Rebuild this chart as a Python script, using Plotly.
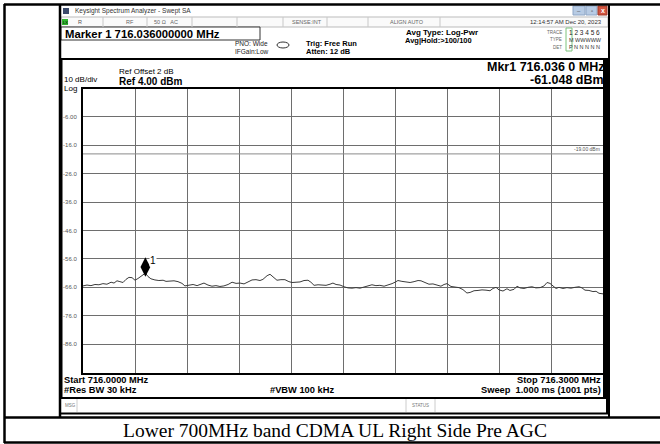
import plotly.graph_objects as go

# ---------------- data ----------------
freq_mhz = [716.0000, 716.0023, 716.0046, 716.0069, 716.0092, 716.0115, 716.0138, 716.0162, 716.0179,
            716.0196, 716.0213, 716.0231, 716.0248, 716.0265, 716.0283, 716.0300, 716.0317, 716.0335,
            716.0360, 716.0375, 716.0392, 716.0415, 716.0438, 716.0462, 716.0479, 716.0502, 716.0525,
            716.0548, 716.0571, 716.0588, 716.0612, 716.0635, 716.0658, 716.0681, 716.0698, 716.0721,
            716.0744, 716.0767, 716.0790, 716.0813, 716.0837, 716.0860, 716.0883, 716.0906, 716.0929,
            716.0952, 716.0975, 716.0998, 716.1021, 716.1038, 716.1062, 716.1079, 716.1096, 716.1119,
            716.1142, 716.1165, 716.1188, 716.1206, 716.1229, 716.1252, 716.1275, 716.1298, 716.1315,
            716.1333, 716.1356, 716.1379, 716.1402, 716.1425, 716.1442, 716.1460, 716.1483, 716.1506,
            716.1529, 716.1552, 716.1575, 716.1598, 716.1621, 716.1644, 716.1667, 716.1690, 716.1713,
            716.1737, 716.1760, 716.1783, 716.1800, 716.1817, 716.1840, 716.1863, 716.1887, 716.1910,
            716.1933, 716.1950, 716.1973, 716.1996, 716.2019, 716.2042, 716.2065, 716.2083, 716.2100,
            716.2123, 716.2146, 716.2169, 716.2192, 716.2215, 716.2233, 716.2256, 716.2279, 716.2302,
            716.2325, 716.2348, 716.2365, 716.2383, 716.2400, 716.2423, 716.2446, 716.2463, 716.2487,
            716.2504, 716.2521, 716.2544, 716.2567, 716.2590, 716.2613, 716.2637, 716.2660, 716.2677,
            716.2694, 716.2712, 716.2729, 716.2746, 716.2769, 716.2792, 716.2815, 716.2838, 716.2862,
            716.2879, 716.2896, 716.2919, 716.2942, 716.2960, 716.2977, 716.3000]
level_dbm = [-65.5, -65.2, -65.4, -65.0, -65.1, -64.7, -64.9, -64.2, -64.5,
             -63.7, -64.0, -64.3, -63.2, -62.5, -62.6, -63.5, -62.9, -62.0,
             -61.0, -62.2, -63.0, -63.4, -63.6, -63.5, -63.9, -63.8, -63.7,
             -64.0, -64.6, -65.5, -65.3, -65.0, -65.4, -64.9, -64.5, -65.2,
             -65.6, -65.4, -65.7, -65.5, -65.0, -64.2, -64.6, -64.5, -64.8,
             -64.1, -63.4, -63.3, -63.6, -63.2, -61.9, -61.4, -62.3, -63.5,
             -63.3, -63.3, -64.0, -64.3, -64.2, -64.1, -63.6, -63.5, -64.2,
             -65.3, -65.1, -65.2, -65.3, -64.9, -64.5, -65.0, -65.2, -65.8,
             -66.2, -66.3, -66.1, -66.3, -65.9, -65.5, -65.1, -65.4, -65.3,
             -65.6, -65.2, -64.7, -64.2, -63.6, -63.9, -64.2, -64.3, -64.0,
             -63.6, -63.7, -64.4, -64.9, -64.8, -65.3, -65.6, -65.0, -64.7,
             -65.7, -66.0, -66.1, -66.8, -68.0, -67.8, -67.2, -67.1, -66.9,
             -67.0, -67.2, -66.4, -66.0, -66.9, -67.3, -66.5, -67.1, -66.7,
             -65.6, -66.2, -66.4, -66.0, -65.8, -66.2, -66.1, -65.5, -64.3,
             -64.6, -65.6, -66.4, -66.0, -66.4, -66.1, -66.3, -66.0, -65.8,
             -66.2, -67.0, -67.1, -67.5, -67.4, -68.1, -68.3]

y_tick_vals = [-6, -16, -26, -36, -46, -56, -66, -76, -86]
y_tick_text = ["-6.00", "-16.0", "-26.0", "-36.0", "-46.0", "-56.0", "-66.0", "-76.0", "-86.0"]
x_grid_vals = [716.03, 716.06, 716.09, 716.12, 716.15, 716.18, 716.21, 716.24, 716.27]

start_mhz, stop_mhz = 716.0, 716.3
ref_level, bottom_level = 4.0, -96.0
display_line = -19.0
mkr_freq, mkr_level = 716.036, -61.048

W, H = 660, 444
SANS = "Liberation Sans, Arial, sans-serif"
SERIF = "Liberation Serif, Times New Roman, serif"


def X(px):
    return px / W


def Y(py):
    return 1 - py / H


fig = go.Figure()

fig.add_trace(go.Scatter(x=freq_mhz, y=level_dbm, mode="lines",
                         line=dict(color="#3a3a3a", width=1), hoverinfo="skip", showlegend=False))
# marker 1 (diamond sitting on the trace peak)
fig.add_trace(go.Scatter(x=[mkr_freq], y=[mkr_level + 2.2], mode="markers",
                         marker=dict(symbol="diamond-tall", size=14, color="black"),
                         hoverinfo="skip", showlegend=False))

shapes = []
annots = []


def rect(x0, y0, x1, y1, fill=None, line=None, lw=1):
    shapes.append(dict(type="rect", xref="paper", yref="paper", x0=X(x0), x1=X(x1), y0=Y(y1), y1=Y(y0),
                       fillcolor=fill if fill else "rgba(0,0,0,0)",
                       line=dict(color=line if line else "rgba(0,0,0,0)", width=lw if line else 0),
                       layer="below"))


def hline(x0, x1, y, color="black", lw=1):
    shapes.append(dict(type="line", xref="paper", yref="paper", x0=X(x0), x1=X(x1), y0=Y(y), y1=Y(y),
                       line=dict(color=color, width=lw)))


def vline(x, y0, y1, color="black", lw=1):
    shapes.append(dict(type="line", xref="paper", yref="paper", x0=X(x), x1=X(x), y0=Y(y0), y1=Y(y1),
                       line=dict(color=color, width=lw)))


def text(x, y, s, size=8, bold=False, anchor="left", color="black", font=SANS):
    if bold:
        s = "<b>" + s + "</b>"
    annots.append(dict(xref="paper", yref="paper", x=X(x), y=Y(y), text=s, showarrow=False,
                       xanchor=anchor, yanchor="middle", font=dict(family=font, size=size, color=color)))


# ---- title bar ----
rect(61, 5, 608, 17, fill="#d3e1f2")
rect(63, 8, 69, 14, fill="#3b4a6b")
text(73, 11, "Keysight Spectrum Analyzer - Swept SA", size=6.5, color="#333")
rect(573, 6, 585, 15, fill="#b7cbe4", line="#8ea6c6")
rect(586, 6, 597, 15, fill="#b7cbe4", line="#8ea6c6")
rect(598, 6, 607, 15, fill="#d2553f", line="#a03a2a")
text(602.5, 10.5, "x", size=7, bold=True, anchor="center", color="white")
text(579, 10.5, "–", size=6, anchor="center", color="#444")
text(591.5, 10.5, "▫", size=6, anchor="center", color="#444")

# ---- status row ----
rect(61, 17, 608, 27, fill="#fafafa", line="#bbbbbb", lw=1)
rect(62, 19, 68, 25, fill="#2fb52f")
text(65, 22, "LX", size=4, anchor="center", color="#000")
text(76, 22, "R", size=5.5, color="#555")
text(130, 22, "RF", size=5.5, anchor="center", color="#666")
text(152, 22, "50 Ω   AC", size=5.5, color="#666")
text(290, 22, "SENSE:INT", size=5.5, color="#666")
text(388, 22, "ALIGN AUTO", size=5.5, color="#666")
text(604, 22, "12:14:57 AM Dec 20, 2023", size=6, anchor="right", color="#333")
for sx in [103, 147, 192, 237, 283, 327, 368, 440]:
    vline(sx, 17, 27, color="#c8c8c8", lw=1)

# ---- marker frequency box and settings ----
rect(61, 27, 260, 40, fill="white", line="#333", lw=1)
text(63, 33.5, "Marker 1 716.036000000 MHz", size=11.3, bold=True)
text(233, 43.5, "PNO: Wide", size=6.5, color="#222")
text(233, 51.5, "IFGain:Low", size=6.5, color="#222")
shapes.append(dict(type="circle", xref="paper", yref="paper", x0=X(277), x1=X(289), y0=Y(48), y1=Y(42),
                   line=dict(color="#333", width=1)))
text(304, 43, "Trig: Free Run", size=7.5, bold=True)
text(304, 51.5, "Atten: 12 dB", size=7.5, bold=True)
text(442, 32, "Avg Type: Log-Pwr", size=8, bold=True, anchor="center")
text(438, 40.5, "Avg|Hold:>100/100", size=7.5, bold=True, anchor="center")
text(564, 32, "TRACE", size=4.5, anchor="right", color="#666")
text(564, 39.5, "TYPE", size=4.5, anchor="right", color="#666")
text(564, 47, "DET", size=4.5, anchor="right", color="#666")
rect(566, 28, 572, 51, line="#7cc47c", lw=1)
text(567, 32, "1 2 3 4 5 6", size=6.5, color="#222")
text(567, 39.5, "M WWWWW", size=5.5, color="#333")
text(567, 47, "P N N N N N", size=5.5, color="#333")

# ---- graph panel frame ----
hline(61, 608, 59, lw=2)
vline(61.5, 59, 398, lw=2)
rect(603, 59, 608, 398, fill="black")
hline(61, 608, 398, lw=2)
text(117, 71, "Ref Offset 2 dB", size=8)
text(117, 81, "Ref 4.00 dBm", size=10, bold=True)
text(62, 80, "10 dB/div", size=8)
text(62, 88.5, "Log", size=8)
text(606, 67, "Mkr1 716.036 0 MHz", size=12.5, bold=True, anchor="right")
text(606, 80, "-61.048 dBm", size=12.5, bold=True, anchor="right")
text(62, 380, "Start 716.0000 MHz", size=9.3, bold=True)
text(62, 390, "#Res BW 30 kHz", size=9.3, bold=True)
text(268, 390, "#VBW 100 kHz", size=9.3, bold=True)
text(603, 380, "Stop 716.3000 MHz", size=9.3, bold=True, anchor="right")
text(603, 390, "Sweep  1.000 ms (1001 pts)", size=9.3, bold=True, anchor="right")

# ---- msg row ----
text(63, 405, "MSG", size=4.5, color="#777")
vline(77, 399, 412, color="#ccc")
vline(406, 399, 412, color="#ccc")
vline(435, 399, 412, color="#ccc")
text(420.5, 405, "STATUS", size=4.5, anchor="center", color="#777")
hline(61, 608, 413.5, color="black", lw=2)
vline(607, 398, 414, lw=2)

# ---- document table borders ----
hline(4, 660, 4.5, lw=2.5)
vline(4.5, 4, 443, lw=2.5)
vline(60, 4, 417, lw=2.5)
vline(609, 4, 417, lw=2)
hline(4, 660, 417.5, lw=2.5)
hline(4, 660, 442.5, lw=2.5)
text(335, 430.5, "Lower 700MHz band CDMA UL Right Side Pre AGC", size=19.5, font=SERIF, anchor="center")

# ---- data-space items ----
fig.add_hline(y=display_line, line=dict(color="#8a8a8a", width=1))
annots.append(dict(x=stop_mhz, y=display_line, xref="x", yref="y", text="-19.00 dBm", showarrow=False,
                   xanchor="right", yanchor="bottom", yshift=0, xshift=-1,
                   font=dict(family=SANS, size=5, color="#555")))
annots.append(dict(x=mkr_freq, y=mkr_level + 4.5, xref="x", yref="y", text="1", showarrow=False,
                   xanchor="left", yanchor="middle", xshift=4, bgcolor="white", borderpad=0,
                   font=dict(family=SANS, size=10, color="black")))

fig.update_layout(
    width=W, height=H, autosize=False,
    margin=dict(l=0, r=0, t=0, b=0),
    paper_bgcolor="white", plot_bgcolor="white",
    shapes=shapes, annotations=annots, showlegend=False,
    xaxis=dict(domain=[X(83), X(603)], range=[start_mhz, stop_mhz], tickvals=x_grid_vals,
               showticklabels=False, ticks="", showgrid=True, gridcolor="#6e6e6e", gridwidth=1,
               zeroline=False, showline=True, linecolor="black", linewidth=2, mirror=True, fixedrange=True),
    yaxis=dict(domain=[Y(372.5), Y(88.6)], range=[bottom_level, ref_level], tickvals=y_tick_vals,
               ticktext=y_tick_text, ticks="", showgrid=True, gridcolor="#6e6e6e", gridwidth=1,
               zeroline=False, showline=True, linecolor="black", linewidth=2, mirror=True,
               tickfont=dict(family=SANS, size=6, color="#555"), ticklabelstandoff=3, fixedrange=True),
)

fig.write_html("out.html", config={"displayModeBar": False},
               post_script="document.body.style.margin='0px';document.body.style.overflow='hidden';")
